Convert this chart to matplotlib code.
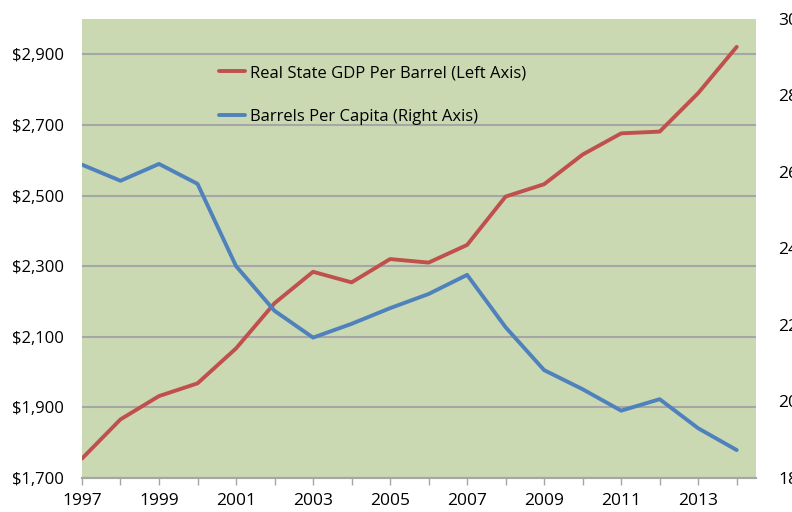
import matplotlib
matplotlib.use("Agg")
import matplotlib.pyplot as plt
from matplotlib.ticker import FuncFormatter

years = list(range(1997, 2015))
gdp_per_barrel = [1755, 1866, 1932, 1968, 2067, 2195, 2284, 2254, 2320, 2310,
                  2360, 2497, 2532, 2616, 2676, 2681, 2790, 2921]
barrels_per_capita = [26.19, 25.77, 26.21, 25.69, 23.54, 22.37, 21.67, 22.03, 22.44,
                      22.81, 23.31, 21.94, 20.82, 20.32, 19.76, 20.06, 19.30, 18.73]
left_ticks = [1700, 1900, 2100, 2300, 2500, 2700, 2900]
right_ticks = [18, 20, 22, 24, 26, 28, 30]
xtick_labels = list(range(1997, 2015, 2))
label_red = "Real State GDP Per Barrel (Left Axis)"
label_blue = "Barrels Per Capita (Right Axis)"

plt.rcParams['font.family'] = ['Open Sans', 'DejaVu Sans']

fig = plt.figure(figsize=(7.92, 5.12), dpi=100)
ax = fig.add_axes([0.1035, 0.0664, 0.851, 0.8966])
ax.set_facecolor('#CAD9B2')
ax2 = ax.twinx()

l1, = ax.plot(years, gdp_per_barrel, color='#C0504D', lw=2.8, solid_capstyle='round', zorder=3)
l2, = ax2.plot(years, barrels_per_capita, color='#4F81BD', lw=2.8, solid_capstyle='round', zorder=3)

ax.set_xlim(1997, 2014.5)
ax.set_ylim(1700, 3000)
ax2.set_ylim(18, 30)

ax.set_yticks(left_ticks)
ax.yaxis.set_major_formatter(FuncFormatter(lambda v, p: f"${int(v):,}"))
ax.grid(axis='y', color='#A6A6A6', lw=1.5)
ax.set_axisbelow(True)
ax.tick_params(axis='y', length=0, pad=13, labelsize=12, colors='black')

ax.set_xticks(years, minor=True)
ax.set_xticks(xtick_labels)
ax.set_xticklabels([str(y) for y in xtick_labels])
ax.tick_params(axis='x', which='both', length=5, width=1, color='#A6A6A6', pad=6, labelsize=12.5)

ax2.set_yticks(right_ticks)
ax2.tick_params(axis='y', length=0, pad=16, labelsize=12.5)

for a in (ax, ax2):
    for s in ('left', 'right', 'top'):
        a.spines[s].set_visible(False)
    a.spines['bottom'].set_color('#A6A6A6')
    a.spines['bottom'].set_linewidth(1.5)

leg = ax2.legend([l1, l2], [label_red, label_blue], loc='upper left',
                 bbox_to_anchor=(0.2657, 0.889), bbox_transform=fig.transFigure,
                 frameon=False, fontsize=12, handlelength=1.6, handletextpad=0.3,
                 labelspacing=1.69, borderpad=0)

fig.savefig('out.png', dpi=100)
